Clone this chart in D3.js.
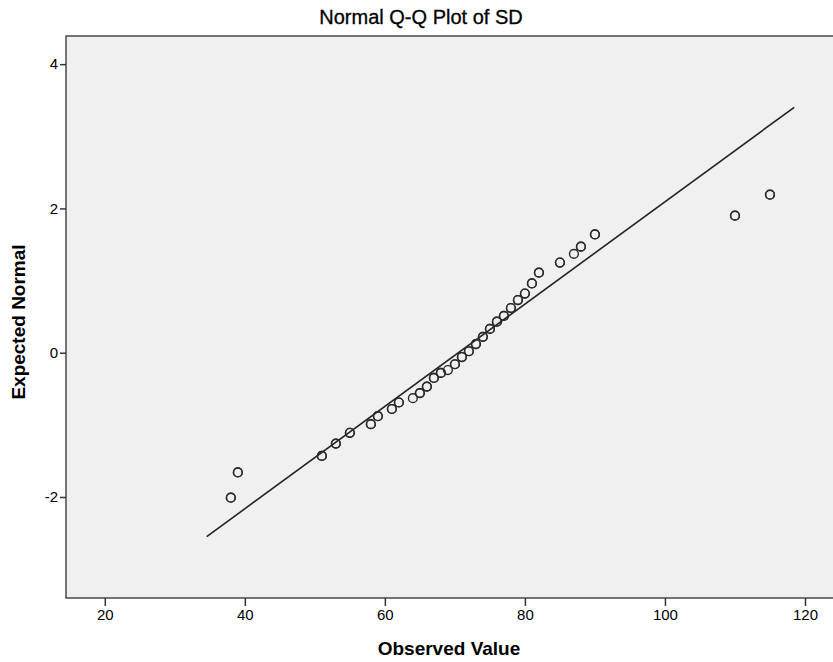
<!DOCTYPE html>
<html>
<head>
<meta charset="utf-8">
<script src="https://cdn.jsdelivr.net/npm/d3@7"></script>
<style>
  body { margin: 0; background: #fff; }
  svg text { font-family: "Liberation Sans", Arial, sans-serif; fill: #000; }
</style>
</head>
<body>
<div class="chart"></div>
<script>
// observed values (sorted) and their expected normal scores
const observed = [38, 39, 51, 53, 55, 58, 59, 61, 62, 64, 65, 66, 67, 68, 69, 70, 71,
  72, 73, 74, 75, 76, 77, 78, 79, 80, 81, 82, 85, 87, 88, 90, 110, 115];
const expected = [-2.01, -1.66, -1.43, -1.26, -1.11, -0.99, -0.88, -0.78, -0.69, -0.63,
  -0.56, -0.47, -0.35, -0.28, -0.24, -0.16, -0.06, 0.02, 0.12, 0.22, 0.33, 0.43, 0.51,
  0.62, 0.73, 0.82, 0.96, 1.11, 1.25, 1.37, 1.47, 1.64, 1.90, 2.19];
// cases at each value (tied cases overprint)
const cases = [2, 2, 2, 2, 2, 2, 2, 2, 2, 1, 2, 2, 2, 2, 1, 2, 2,
  2, 2, 2, 2, 2, 2, 2, 2, 2, 2, 2, 2, 1, 2, 2, 2, 2];
// reference line y = (x - mean) / sd
const lineMean = 70.5;
const lineSd = 14.1;
const lineExtent = [34.56, 118.46];
const xTicks = [20, 40, 60, 80, 100, 120];
const yTicks = [-2, 0, 2, 4];

const width = 833, height = 662;
const plot = {left: 66, top: 36, right: 833, bottom: 598};

const svg = d3.select('.chart')
  .append('svg')
  .attr('width', width)
  .attr('height', height);

const x = d3.scaleLinear().domain([14.46, 124.0]).range([plot.left, plot.right]);
const y = d3.scaleLinear().domain([-3.40, 4.39]).range([plot.bottom, plot.top]);

svg.append('rect')
  .attr('x', plot.left)
  .attr('y', plot.top)
  .attr('width', plot.right - plot.left + 10)
  .attr('height', plot.bottom - plot.top)
  .attr('fill', '#f0f0f0')
  .attr('stroke', '#4a4a4a')
  .attr('stroke-width', 1.5);

const fmt = function(d) { return String(d); }; // plain hyphen for negatives
const xAxis = svg.append('g')
  .attr('transform', 'translate(0,' + plot.bottom + ')')
  .call(d3.axisBottom(x).tickValues(xTicks).tickFormat(fmt).tickSize(8).tickSizeOuter(0).tickPadding(3));
const yAxis = svg.append('g')
  .attr('transform', 'translate(' + plot.left + ',0)')
  .call(d3.axisLeft(y).tickValues(yTicks).tickFormat(fmt).tickSize(6).tickSizeOuter(0).tickPadding(2));

[xAxis, yAxis].forEach(function(a) {
  a.select('.domain').remove();
  a.selectAll('line').attr('stroke', '#333').attr('stroke-width', 1.5);
  a.selectAll('text').style('font-size', '15px').attr('fill', '#111');
});

// reference line
svg.append('line')
  .attr('x1', x(lineExtent[0]))
  .attr('y1', y((lineExtent[0] - lineMean) / lineSd))
  .attr('x2', x(lineExtent[1]))
  .attr('y2', y((lineExtent[1] - lineMean) / lineSd))
  .attr('stroke', '#222')
  .attr('stroke-width', 1.6);

// points, drawn once per case
const pts = [];
observed.forEach(function(v, i) {
  for (let k = 0; k < cases[i]; k++) pts.push({x: v, y: expected[i]});
});
svg.append('g').selectAll('circle')
  .data(pts)
  .enter()
  .append('circle')
  .attr('cx', function(d) { return x(d.x); })
  .attr('cy', function(d) { return y(d.y); })
  .attr('r', 4.4)
  .attr('fill', 'none')
  .attr('stroke', '#2a2a2a')
  .attr('stroke-width', 1.4);

svg.append('text')
  .attr('x', 421)
  .attr('y', 24)
  .attr('text-anchor', 'middle')
  .style('font-size', '20px')
  .style('stroke', '#000')
  .style('stroke-width', 0.3)
  .text('Normal Q-Q Plot of SD');

svg.append('text')
  .attr('x', 449)
  .attr('y', 655)
  .attr('text-anchor', 'middle')
  .style('font-size', '19px')
  .style('font-weight', 'bold')
  .text('Observed Value');

svg.append('text')
  .attr('transform', 'translate(25,' + 322 + ') rotate(-90)')
  .attr('text-anchor', 'middle')
  .style('font-size', '19px')
  .style('font-weight', 'bold')
  .text('Expected Normal');
</script>
</body>
</html>
